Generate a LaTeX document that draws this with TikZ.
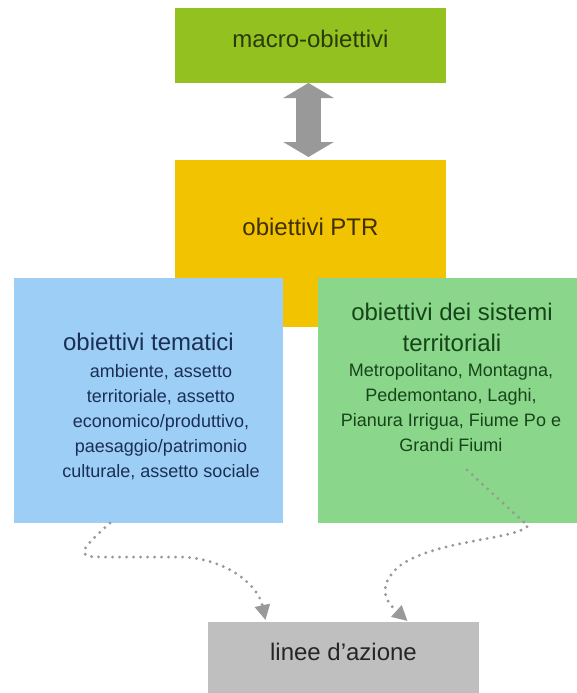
\documentclass[tikz,border=0pt]{standalone}
\usepackage{fontspec}
\setmainfont{Liberation Sans}
\usetikzlibrary{arrows.meta}
\definecolor{macroG}{HTML}{93C11F}
\definecolor{ptrY}{HTML}{F2C300}
\definecolor{temB}{HTML}{9DCEF6}
\definecolor{sisG}{HTML}{8AD68A}
\definecolor{lineeG}{HTML}{BFBFBF}
\definecolor{arrG}{HTML}{999999}
\definecolor{macroT}{HTML}{2B3A0A}
\definecolor{ptrT}{HTML}{3F3000}
\definecolor{temT}{HTML}{1B2F55}
\definecolor{sisT}{HTML}{17451A}
\definecolor{lineeT}{HTML}{262626}
\begin{document}
\begin{tikzpicture}[x=1pt,y=-1pt,
  box/.style={inner sep=0pt, outer sep=0pt, draw=none},
  title/.style={inner sep=0pt, font=\fontsize{24}{31}\selectfont, align=center},
  sub/.style={inner sep=0pt, font=\fontsize{18}{25}\selectfont, align=center},
  dotcon/.style={draw=arrG, line width=3.2pt, line cap=round, dash pattern=on 0pt off 7pt,
    -{Triangle[width=15pt,length=15pt]}},
  blockarrow/.style={draw=arrG, line width=25pt,
    {Triangle[width=50pt,length=15pt]}-{Triangle[width=50pt,length=15pt]}}
]
\clip (0,0) rectangle (577,693);
\fill[white] (0,0) rectangle (577,693);

% boxes
\node[box, fill=ptrY, minimum width=271pt, minimum height=167pt] (ptr) at (310.5,243.5) {};
\node[box, fill=macroG, minimum width=271pt, minimum height=75pt] (macro) at (310.5,45.5) {};
\node[box, fill=temB, minimum width=269pt, minimum height=245pt] (tem) at (148.5,400.5) {};
\node[box, fill=sisG, minimum width=270pt, minimum height=245pt] (sis) at (453,400.5) {};
\node[box, fill=lineeG, minimum width=271pt, minimum height=90pt] (linee) at (343.5,667) {};

% texts
\node[title, anchor=base, text=macroT] (tmacro) at (310.5,48) {macro-obiettivi};
\node[title, anchor=base, text=ptrT] (tptr) at (310.5,235) {obiettivi PTR};
\node[title, anchor=base, text=temT] (ttem) at (148.5,350) {obiettivi tematici};
\node[sub, text=temT] (stem) at (161,422) {ambiente, assetto\\territoriale, assetto\\economico/produttivo,\\paesaggio/patrimonio\\culturale, assetto sociale};
\node[title, text=sisT] (tsis) at (452,327) {obiettivi dei sistemi\\territoriali};
\node[sub, text=sisT] (ssis) at (451,407.5) {Metropolitano, Montagna,\\Pedemontano, Laghi,\\Pianura Irrigua, Fiume Po e\\Grandi Fiumi};
\node[title, anchor=base, text=lineeT] (tlinee) at (343.5,660) {linee d'azione};

% connectors
\draw[blockarrow] ([xshift=-2pt]macro.south) -- ([xshift=-2pt,yshift=3pt]ptr.north);
\draw[dotcon] ([xshift=-38.5pt]tem.south) .. controls (80,550) and (75,557) .. (100,557)
  -- (184,557) .. controls (228,560) and (258,585) .. ([xshift=-78pt,yshift=2pt]linee.north);
\coordinate (sisstart) at (467,470);
\draw[dotcon] (sisstart) -- (528,526) .. controls (515,540) and (430,540) .. (397,568)
  .. controls (380,585) and (382,598) .. ([xshift=64pt,yshift=1pt]linee.north);
\end{tikzpicture}
\end{document}
